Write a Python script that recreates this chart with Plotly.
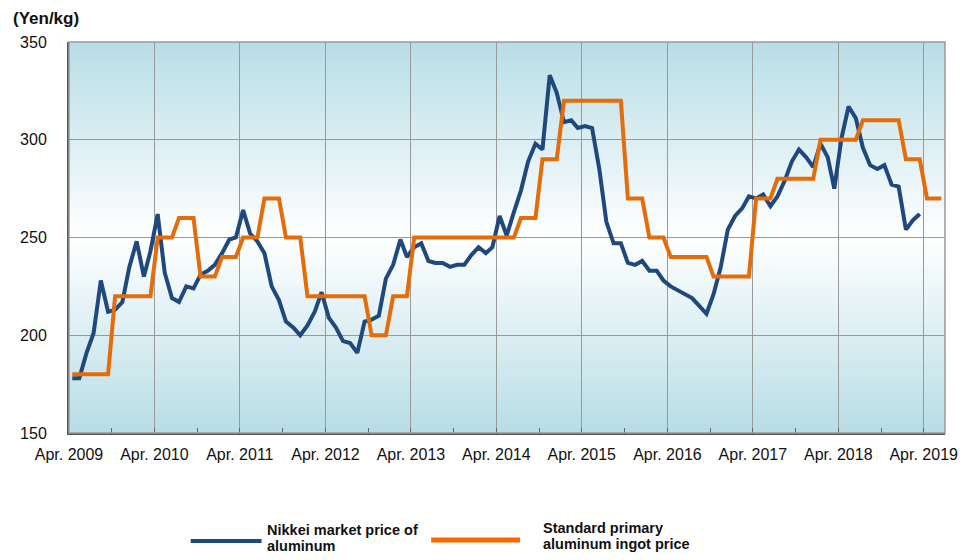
import plotly.graph_objects as go
import pandas as pd

# monthly Nikkei market price of aluminum, Apr 2009 - Mar 2019 (yen/kg)
nikkei = [178, 178, 191, 201, 228, 212, 213, 217, 235, 248, 230, 243,
          262, 232, 219, 217, 225, 224, 231, 233, 236, 242, 249, 250,
          264, 252, 248, 242, 225, 218, 207, 204, 200, 205, 212, 222,
          209, 204, 197, 196, 191, 207, 208, 210, 229, 236, 249, 240,
          245, 247, 238, 237, 237, 235, 236, 236, 241, 245, 242, 245,
          261, 251, 263, 274, 289, 298, 295, 333, 324, 309, 310, 306,
          307, 306, 285, 258, 247, 247, 237, 236, 238, 233, 233, 228,
          225, 223, 221, 219, 215, 211, 221, 235, 254, 261, 265, 271,
          270, 272, 266, 271, 279, 289, 295, 291, 286, 298, 291, 275,
          301, 317, 311, 296, 287, 285, 287, 277, 276, 254, 259, 262]

# quarterly standard primary aluminum ingot price, Apr-Jun 2009 .. Apr-Jun 2019
ingot_q = [180, 180, 220, 220, 250, 260, 230, 240, 250, 270, 250, 220,
           220, 220, 200, 220, 250, 250, 250, 250, 250, 260, 290, 320,
           320, 320, 270, 250, 240, 240, 230, 230, 270, 280, 280, 300,
           300, 310, 310, 290, 270]

series_names = [["Nikkei market price of", "aluminum"],
                ["Standard primary", "aluminum ingot price"]]
years = list(range(2009, 2020))
tick_text = ["Apr. %d" % y for y in years]

ingot = [v for v in ingot_q for _ in range(3)]
months = pd.date_range("2009-04-01", periods=len(ingot), freq="MS") + pd.Timedelta(days=14)
year_ticks = [pd.Timestamp(y, 4, 1) for y in years]
half_ticks = [pd.Timestamp(y, 10, 1) for y in years[:-1]]

BLUE = "#1F497D"
ORANGE = "#E46C0A"
FONT = "Liberation Sans, Arial, sans-serif"

# the page body adds an 8px margin, so the figure is 8px smaller than the window
OFF = 8
W, H = 971 - OFF, 560 - OFF
L, R, T, B = 67 - OFF, 26, 42 - OFF, 127
pw, ph = W - L - R, H - T - B


def px(x):
    return (x - OFF - L) / pw


def py(y):
    return (H - B - (y - OFF)) / ph


fig = go.Figure()
fig.add_trace(go.Scatter(x=months[:len(nikkei)], y=nikkei, mode="lines",
                         line=dict(color=BLUE, width=4), showlegend=False))
fig.add_trace(go.Scatter(x=months, y=ingot, mode="lines",
                         line=dict(color=ORANGE, width=4), showlegend=False))

# gradient background: light blue at top and bottom, white in the middle
shapes = []
n = 80
edge = (183, 221, 230)
for i in range(n):
    t0, t1 = i / n, (i + 1) / n
    f = abs((t0 + t1) / 2 - 0.5) * 2
    c = [round(255 + (v - 255) * f) for v in edge]
    shapes.append(dict(type="rect", xref="x domain", yref="y domain",
                       x0=0, x1=1, y0=t0, y1=min(1, t1 + 0.004),
                       fillcolor="rgb(%d,%d,%d)" % tuple(c), line=dict(width=0),
                       layer="below"))
shapes.append(dict(type="rect", xref="x domain", yref="y domain", x0=0, x1=1, y0=0, y1=1,
                   line=dict(color="#999999", width=1.5), layer="above"))

# custom legend
shapes.append(dict(type="line", xref="paper", yref="paper", x0=px(189), x1=px(260),
                   y0=py(541), y1=py(541), line=dict(color=BLUE, width=4)))
shapes.append(dict(type="line", xref="paper", yref="paper", x0=px(430), x1=px(519),
                   y0=py(540), y1=py(540), line=dict(color="#FF6600", width=5)))

annotations = [
    dict(text="<b>(Yen/kg)</b>", xref="paper", yref="paper", x=px(9), y=py(19),
         xanchor="left", yanchor="middle", showarrow=False,
         font=dict(size=17, color="#111111", family=FONT)),
]
legend_pos = [(264, 530, 546), (541, 528, 544)]
for lines, (lx, y1, y2) in zip(series_names, legend_pos):
    for txt, ly in zip(lines, (y1, y2)):
        annotations.append(dict(text="<b>%s</b>" % txt, xref="paper", yref="paper",
                                x=px(lx), y=py(ly), xanchor="left", yanchor="middle",
                                showarrow=False, borderpad=0,
                                font=dict(size=14.5, color="#111111", family=FONT)))

fig.update_layout(
    width=W, height=H, autosize=False,
    margin=dict(l=L, r=R, t=T, b=B),
    paper_bgcolor="white", plot_bgcolor="white",
    font=dict(family=FONT, size=16, color="#111111"),
    shapes=shapes, annotations=annotations,
    xaxis=dict(type="date", range=["2009-04-01", "2019-07-01"],
               tickmode="array", tickvals=year_ticks, ticktext=tick_text,
               showgrid=True, gridcolor="#999999", gridwidth=1.2,
               ticks="inside", ticklen=5, tickcolor="#666666",
               minor=dict(tickmode="array", tickvals=half_ticks, ticks="inside",
                          ticklen=5, tickcolor="#666666", showgrid=False),
               showline=True, linecolor="#555555", linewidth=2,
               ticklabelstandoff=6, zeroline=False),
    yaxis=dict(range=[150, 350], tickvals=[150, 200, 250, 300, 350],
               showgrid=True, gridcolor="#999999", gridwidth=1.2,
               showline=True, linecolor="#555555", linewidth=2,
               ticks="", ticklabelstandoff=17, zeroline=False),
)

fig.write_html("out.html")
